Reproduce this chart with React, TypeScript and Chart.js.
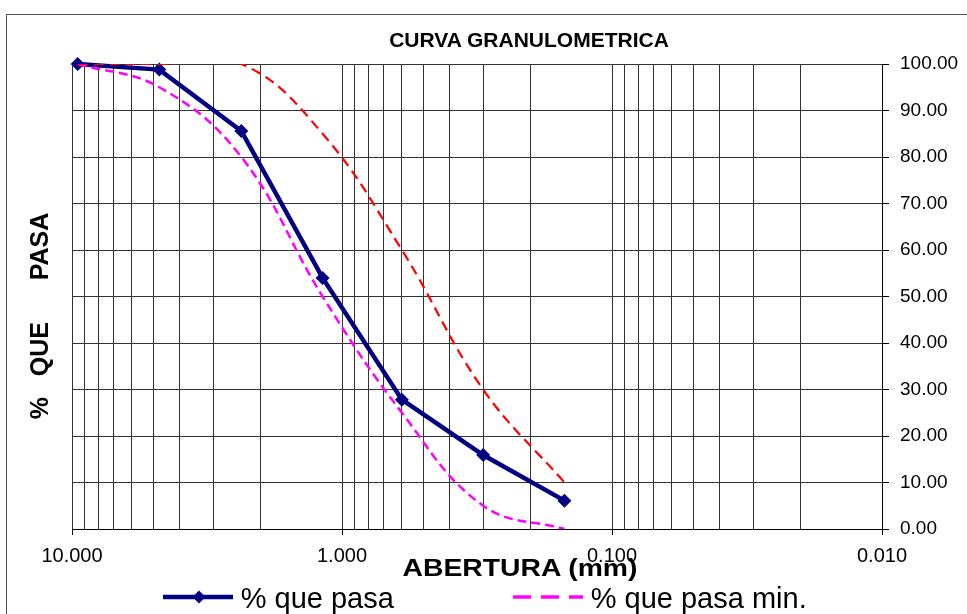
import React, { useEffect, useRef } from 'react';
import { Chart, registerables } from 'chart.js';

Chart.register(...registerables);

// ---- data ----
const sieveSizes = [9.525, 4.75, 2.36, 1.18, 0.6, 0.3, 0.15];
const pctPassing = [100, 98.8, 85.6, 54.0, 27.8, 15.9, 6.1];
const pctMin = [100, 95, 80, 50, 25, 5, 0];
const pctMax = [100, 100, 100, 85, 60, 30, 10];

const xGridValues = [
  0.01, 0.02, 0.03, 0.04, 0.05, 0.06, 0.07, 0.08, 0.09,
  0.1, 0.2, 0.3, 0.4, 0.5, 0.6, 0.7, 0.8, 0.9,
  1, 2, 3, 4, 5, 6, 7, 8, 9, 10,
];
const xLabelValues = [10, 1, 0.1, 0.01];
const xLabelTexts = ['10.000', '1.000', '0.100', '0.010'];
const yTickValues = [0, 10, 20, 30, 40, 50, 60, 70, 80, 90, 100];

const FONT = '"Liberation Sans", Arial, Helvetica, sans-serif';
const GRID = '#333333';

const isDecade = (v: number) => {
  if (!v || v <= 0) return false;
  const l = Math.log10(v);
  return Math.abs(l - Math.round(l)) < 1e-9;
};

const toPts = (ys: number[]) => sieveSizes.map((x, i) => ({ x, y: ys[i] }));

function TextAt(props: {
  text: string;
  left: number;
  baseline: number;
  size: number;
  bold?: boolean;
  center?: boolean;
  scaleX?: number;
}) {
  const { text, left, baseline, size, bold, center, scaleX } = props;
  const top = baseline - 0.8465 * size;
  const tf: string[] = [];
  if (center) tf.push('translateX(-50%)');
  if (scaleX) tf.push(`scaleX(${scaleX})`);
  return (
    <div
      style={{
        position: 'absolute',
        left,
        top,
        fontFamily: FONT,
        fontSize: size,
        fontWeight: bold ? 'bold' : 'normal',
        lineHeight: 1,
        whiteSpace: 'pre',
        color: '#000',
        transform: tf.join(' ') || undefined,
        transformOrigin: 'center',
      }}
    >
      {text}
    </div>
  );
}

export default function App() {
  const ref = useRef<HTMLCanvasElement | null>(null);

  useEffect(() => {
    const canvas = ref.current;
    if (!canvas) return;
    Chart.defaults.font.family = FONT;
    const chart = new Chart(canvas, {
      type: 'line',
      data: {
        datasets: [
          {
            label: '% que pasa',
            data: toPts(pctPassing),
            borderColor: '#000080',
            backgroundColor: '#000080',
            borderWidth: 4.5,
            pointStyle: 'rectRot',
            pointRadius: 7,
            pointBackgroundColor: '#000080',
            pointBorderColor: '#000080',
            pointBorderWidth: 0,
            tension: 0,
            clip: false as any,
            order: 3,
          },
          {
            label: '% que pasa min.',
            data: toPts(pctMin),
            borderColor: '#FF00FF',
            borderWidth: 2.5,
            borderDash: [9, 5],
            pointRadius: 0,
            tension: 0.4,
            order: 2,
          },
          {
            label: '% que pasa max.',
            data: toPts(pctMax),
            borderColor: '#FF0000',
            borderWidth: 2.2,
            borderDash: [10, 6],
            pointRadius: 0,
            tension: 0.4,
            capBezierPoints: false,
            order: 1,
          },
        ],
      },
      options: {
        animation: false,
        responsive: false,
        maintainAspectRatio: false,
        devicePixelRatio: 1,
        layout: { padding: { left: 72, top: 64, right: 0, bottom: 0 } },
        plugins: {
          legend: { display: false },
          title: { display: false },
          tooltip: { enabled: false },
        },
        scales: {
          x: {
            type: 'logarithmic',
            reverse: true,
            min: 0.01,
            max: 10,
            position: 'bottom',
            afterBuildTicks: (s: any) => {
              s.ticks = xGridValues.map((v) => ({ value: v, major: isDecade(v) }));
            },
            afterFit: (s: any) => {
              s.height = 85;
            },
            ticks: {
              autoSkip: false,
              maxRotation: 0,
              minRotation: 0,
              padding: 9,
              color: '#000',
              font: { size: 20, family: FONT },
              callback: (v: any) => {
                const val = Number(v);
                const i = xLabelValues.findIndex((x) => Math.abs(x - val) / x < 1e-6);
                return i >= 0 ? xLabelTexts[i] : '';
              },
            },
            grid: {
              color: GRID,
              lineWidth: 1,
              tickLength: 6,
              tickColor: (ctx: any) =>
                ctx.tick && isDecade(ctx.tick.value) ? '#000' : 'rgba(0,0,0,0)',
            },
            border: { color: '#000', width: 1 },
          },
          y: {
            position: 'right',
            min: 0,
            max: 100,
            afterBuildTicks: (s: any) => {
              s.ticks = yTickValues.map((v) => ({ value: v }));
            },
            afterFit: (s: any) => {
              s.width = 85;
            },
            ticks: {
              padding: 11,
              color: '#000',
              font: { size: 19, family: FONT },
              callback: (v: any) => Number(v).toFixed(2),
            },
            grid: { color: GRID, lineWidth: 1, tickLength: 7, tickColor: '#000' },
            border: { color: '#000', width: 1 },
          },
        },
      } as any,
    });
    return () => chart.destroy();
  }, []);

  return (
    <div
      style={{
        position: 'fixed',
        left: 0,
        top: 0,
        width: 967,
        height: 614,
        overflow: 'hidden',
        background: '#fff',
      }}
    >
      <div
        style={{
          position: 'absolute',
          left: 6,
          top: 14,
          width: 2000,
          height: 2000,
          border: '1px solid #555',
        }}
      />
      <canvas
        ref={ref}
        width={967}
        height={614}
        style={{ position: 'absolute', left: 0, top: 0, width: 967, height: 614 }}
      />
      <TextAt text="CURVA GRANULOMETRICA" left={529} baseline={46.3} size={21} bold center />
      <TextAt text="ABERTURA (mm)" left={520} baseline={576.7} size={24} bold center scaleX={1.18} />
      <div
        style={{
          position: 'absolute',
          left: 39,
          top: 316,
          transform: 'translate(-50%, -50%) rotate(-90deg)',
          fontFamily: FONT,
          fontSize: 25,
          fontWeight: 'bold',
          lineHeight: 1,
          whiteSpace: 'pre',
          color: '#000',
        }}
      >
        {'%   QUE      PASA'}
      </div>
      <svg
        width={967}
        height={614}
        style={{ position: 'absolute', left: 0, top: 0, pointerEvents: 'none' }}
      >
        <line x1={163} y1={597} x2={233} y2={597} stroke="#000080" strokeWidth={4.5} />
        <polygon points="199,590.5 205.5,597 199,603.5 192.5,597" fill="#000080" />
        <line
          x1={513}
          y1={597}
          x2={583}
          y2={597}
          stroke="#FF00FF"
          strokeWidth={3.5}
          strokeDasharray="18 10"
        />
      </svg>
      <TextAt text="% que pasa" left={240.7} baseline={608.3} size={29} />
      <TextAt text="% que pasa min." left={590.7} baseline={608.3} size={29} />
    </div>
  );
}
